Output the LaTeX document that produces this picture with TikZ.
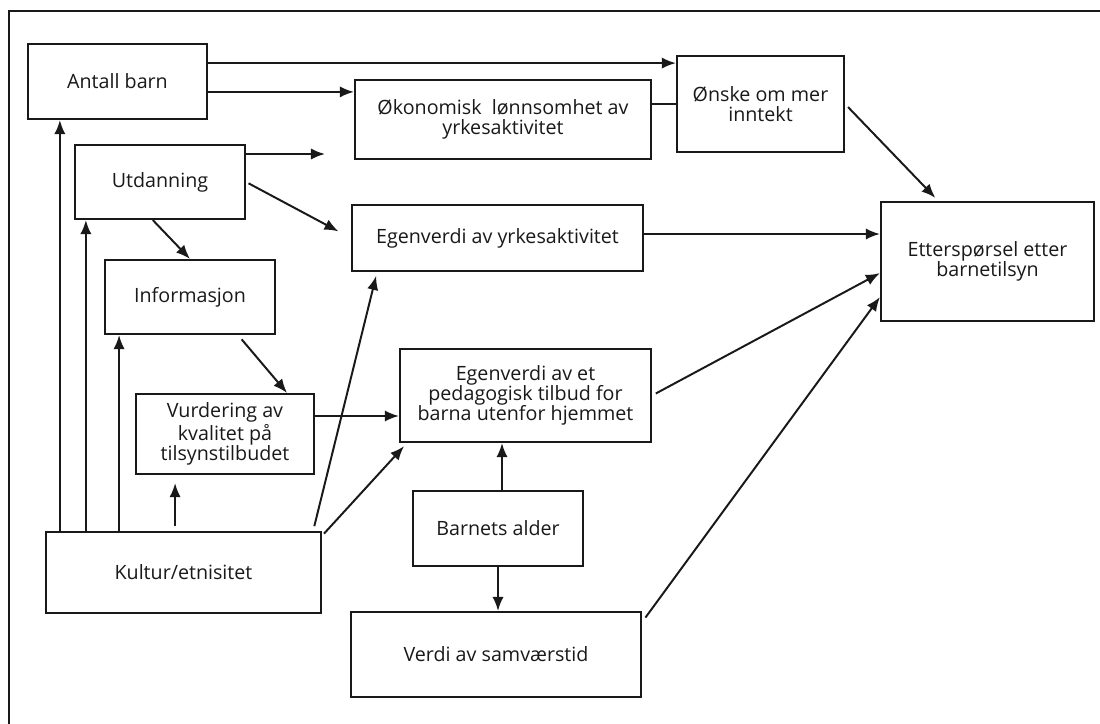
\documentclass[tikz,border=0pt]{standalone}
\usepackage{fontspec}
\setmainfont{Open Sans}
\usetikzlibrary{arrows,arrows.meta,positioning}
\tikzstyle{boks} = [rectangle, draw=black!90, line width=1.5pt, inner sep=0pt, align=center, text=black!90, font=\fontsize{14}{14.4}\selectfont]
\tikzstyle{pil} = [line width=1.4pt, draw=black!90, ->,>={Latex[length=10pt,width=8pt]}]
\tikzstyle{linje} = [line width=1.4pt, draw=black!90]

\begin{document}
\begin{tikzpicture}[x=0.025cm, y=-0.025cm]
	\useasboundingbox (0,0) rectangle (1100,724);
	% Ramme
	\draw[linje] (9,724) -- (9,11) -- (1100,11);
	% Bokser
	\node (antall) [boks, minimum width=4.475cm, minimum height=1.875cm] at (117.5,81.5) {Antall barn};
	\node (oekon) [boks, minimum width=7.4cm, minimum height=1.975cm] at (503,119.5) {Økonomisk\ \ lønnsomhet av\\yrkesaktivitet};
	\node (onske) [boks, minimum width=4.175cm, minimum height=2.4cm] at (760.5,104) {Ønske om mer\\inntekt};
	\node (utdann) [boks, minimum width=4.25cm, minimum height=1.85cm] at (160,182) {Utdanning};
	\node (inform) [boks, minimum width=4.25cm, minimum height=1.85cm] at (190,297) {Informasjon};
	\node (egenyrk) [boks, minimum width=7.275cm, minimum height=1.65cm] at (497.5,238) {Egenverdi av yrkesaktivitet};
	\node (etter) [boks, minimum width=5.325cm, minimum height=2.975cm] at (987.5,261.5) {Etterspørsel etter\\barnetilsyn};
	\node (vurd) [boks, minimum width=4.45cm, minimum height=2cm] at (225,434) {Vurdering av\\kvalitet på\\tilsynstilbudet};
	\node (pedag) [boks, minimum width=6.275cm, minimum height=2.325cm] at (525.5,395.5) {Egenverdi av et\\pedagogisk tilbud for\\barna utenfor hjemmet};
	\node (kultur) [boks, minimum width=6.875cm, minimum height=2.025cm] at (183.5,572.5) {Kultur/etnisitet};
	\node (alder) [boks, minimum width=4.25cm, minimum height=1.875cm] at (498,528.5) {Barnets alder};
	\node (verdi) [boks, minimum width=7.25cm, minimum height=2.125cm] at (496,654.5) {Verdi av samværstid};
	\coordinate (utdpil) at (325,154);
	% Piler
	\draw[pil] ([yshift=0.46cm]antall.east) -- ([yshift=0.46cm]antall.east -| onske.west);
	\draw[pil] ([yshift=-0.26cm]antall.east) -- ([yshift=-0.26cm]antall.east -| oekon.west);
	\draw[linje] (onske.west) -- (onske.west -| oekon.east);
	\draw[pil, shorten <=3pt, shorten >=3pt] (onske.east) -- ([xshift=-1.23cm]etter.north);
	\draw[pil] ([yshift=0.7cm]utdann.east) -- (utdpil);
	\draw[pil, shorten <=2pt, shorten >=10pt] (utdann.east) -- (egenyrk.west);
	\draw[pil] ([xshift=-0.18cm]utdann.south) -- (inform.north);
	\draw[pil, shorten <=4pt] ([xshift=1.2cm]inform.south) -- ([xshift=1.55cm]vurd.north);
	\draw[pil] ([yshift=0.45cm]vurd.east) -- ([yshift=0.45cm]vurd.east -| pedag.west);
	\draw[pil] ([yshift=0.1cm]egenyrk.east) -- ([yshift=0.1cm]egenyrk.east -| etter.west);
	\draw[pil, shorten <=3pt] (pedag.east) -- ([yshift=-0.29cm]etter.west);
	\draw[pil, shorten <=4pt] ([yshift=-0.28cm]verdi.north east) -- ([yshift=-0.89cm]etter.west);
	\draw[pil] ([xshift=-3.09cm]kultur.north) -- ([xshift=-3.09cm]kultur.north |- antall.south);
	\draw[pil] ([xshift=-2.44cm]kultur.north) -- ([xshift=-2.44cm]kultur.north |- utdann.south);
	\draw[pil] ([xshift=-1.61cm]kultur.north) -- ([xshift=-1.61cm]kultur.north |- inform.south);
	\draw[pil, shorten <=3.5pt, shorten >=5.7pt] ([xshift=-0.21cm]kultur.north) -- ([xshift=-0.21cm]kultur.north |- vurd.south);
	\draw[pil, shorten <=3.5pt, shorten >=2.8pt] ([xshift=3.24cm]kultur.north) -- ([xshift=-3.01cm]egenyrk.south);
	\draw[pil, shorten <=2pt, shorten >=3pt] ([yshift=-0.12cm]kultur.north east) -- ([xshift=0.2cm]pedag.south west);
	\draw[pil] ([xshift=0.1cm]alder.north) -- ([xshift=0.1cm]alder.north |- pedag.south);
	\draw[pil] (alder.south) -- (alder.south |- verdi.north);
\end{tikzpicture}
\end{document}
